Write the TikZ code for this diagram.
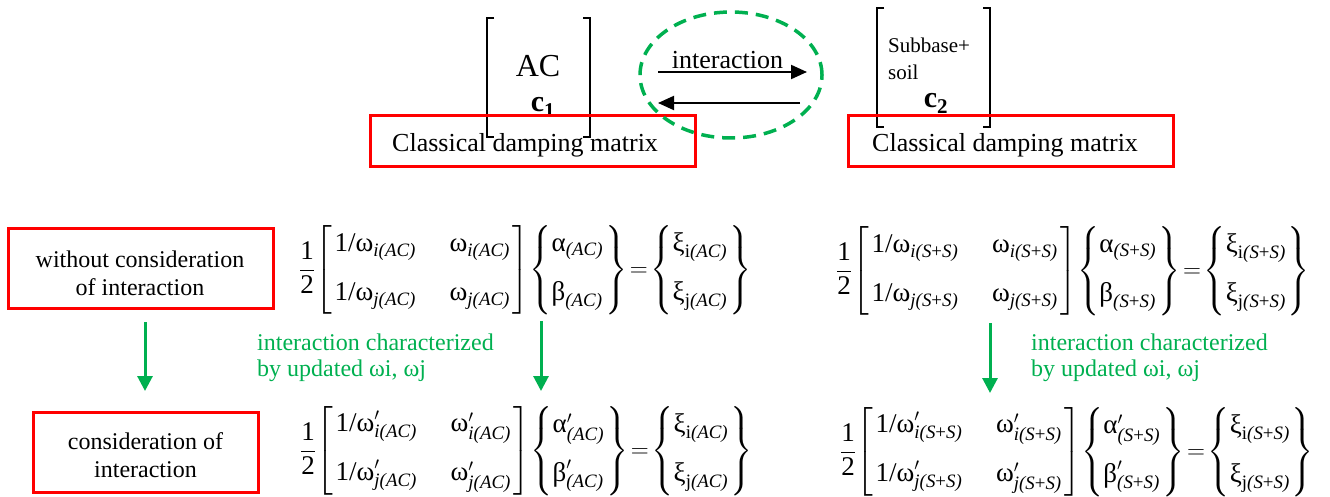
\documentclass[tikz,border=0pt]{standalone}
\usepackage{amsmath}
\usepackage{fontspec}
\setmainfont{Liberation Serif}
\usetikzlibrary{arrows.meta,shapes.geometric}
\definecolor{rgreen}{RGB}{0,176,80}
\newcommand{\fsz}[2]{\fontsize{#1}{#2}\selectfont}
\newcommand{\sbi}[1]{_{\text{\itshape #1}}}
\newcommand{\sbx}[2]{_{\text{#1\itshape #2}}}
\newcommand{\dampeq}[2]{%
$\displaystyle\frac{\text{1}}{\text{2}}\mkern-3mu
\left[\begin{array}{@{\hspace{3pt}}l@{\hspace{1.25em}}l@{\hspace{3pt}}}
\text{1/ω}#1\sbi{i(#2)} & \text{ω}#1\sbi{i(#2)}\\[17pt]
\text{1/ω}#1\sbi{j(#2)} & \text{ω}#1\sbi{j(#2)}
\end{array}\right]\mkern-3mu
\left\{\begin{array}{@{\hspace{0pt}}l@{\hspace{2pt}}}
\text{α}#1\sbi{(#2)}\\[17pt]
\text{β}#1\sbi{(#2)}
\end{array}\right\}
\mkern-3mu=\mkern-3mu\left\{\begin{array}{@{\hspace{0pt}}l@{\hspace{2pt}}}
\text{ξ}\sbx{i}{(#2)}\\[17pt]
\text{ξ}\sbx{j}{(#2)}
\end{array}\right\}$}
\begin{document}
\begin{tikzpicture}[x=1pt,y=1pt,
  redbox/.style={draw=red, line width=3pt, inner sep=0pt},
  brk/.style={line width=1.5pt},
  garrow/.style={draw=rgreen, line width=3pt, -{Triangle[length=15pt,width=15pt]}},
  barrow/.style={line width=2pt, -{Triangle[length=16pt,width=14pt]}},
  lbl/.style={inner sep=0pt, anchor=base},
  gtext/.style={text=rgreen, font=\fsz{24}{28}, anchor=base west, inner sep=0pt},
  eqn/.style={inner sep=0pt, anchor=west, font=\fsz{27}{32}}]
\useasboundingbox (0,0) rectangle (1330,-497);

% top left block
\draw[brk] (494,-18) -- (487,-18) -- (487,-137) -- (494,-137);
\draw[brk] (583,-18) -- (590,-18) -- (590,-137) -- (583,-137);
\node[lbl, font=\fsz{32}{32}] (ac) at (538,-77) {AC};
\node[lbl, font=\fsz{30}{30}] (c1) at (543,-112) {$\textbf{c}_{\textbf{1}}$};
\node[redbox, minimum width=325pt, minimum height=51pt] (cdm1) at (532.5,-141.5) {};
\node[lbl, anchor=base west, font=\fsz{26}{26}] (cdm1t) at (392,-152) {Classical damping matrix};

% interaction ellipse
\node[ellipse, draw=rgreen, line width=3.5pt, dash pattern=on 13pt off 8pt,
      minimum width=182pt, minimum height=126pt, inner sep=0pt] (ell) at (731,-75) {};
\coordinate (a1s) at (658,-72);
\coordinate (a1e) at (807,-72);
\coordinate (a2s) at (800,-103);
\coordinate (a2e) at (658,-103);
\draw[barrow] (a1s) -- (a1e);
\draw[barrow] (a2s) -- (a2e);
\node[lbl, font=\fsz{26}{26}] (intl) at (727.5,-69) {interaction};

% top right block
\draw[brk] (884,-8) -- (877,-8) -- (877,-127) -- (884,-127);
\draw[brk] (983,-8) -- (990,-8) -- (990,-127) -- (983,-127);
\node[lbl, anchor=base west, font=\fsz{21}{21}] (sb1) at (888,-53) {Subbase+};
\node[lbl, anchor=base west, font=\fsz{21}{21}] (sb2) at (888,-80) {soil};
\node[lbl, font=\fsz{30}{30}] (c2) at (936,-108) {$\textbf{c}_{\textbf{2}}$};
\node[redbox, minimum width=325pt, minimum height=51pt] (cdm2) at (1010.5,-141.5) {};
\node[lbl, anchor=base west, font=\fsz{26}{26}] (cdm2t) at (872,-152) {Classical damping matrix};

% left boxes
\node[redbox, minimum width=265pt, minimum height=80pt] (wo) at (140.5,-268) {};
\node[inner sep=0pt, align=center, font=\fsz{24}{28}] (wot) at (140,-273) {without consideration\\of interaction};
\node[redbox, minimum width=225pt, minimum height=80pt] (wi) at (145.5,-452) {};
\node[inner sep=0pt, align=center, font=\fsz{24}{28}] (wit) at (145.5,-455) {consideration of\\interaction};
\draw[garrow] (145,-322) -- (145,-391);

% equations
\node[eqn] (eq1) at (299,-270) {\dampeq{}{AC}};
\node[eqn] (eq2) at (836,-271) {\dampeq{}{S{\upshape+}S}};
\node[eqn] (eq3) at (300,-451) {\dampeq{'}{AC}};
\node[eqn] (eq4) at (840,-452) {\dampeq{'}{S{\upshape+}S}};

% green notes and arrows
\node[gtext] (g1a) at (257,-350) {interaction characterized};
\node[gtext] (g1b) at (257,-376) {by updated ωi, ωj};
\coordinate (m1s) at (541,-321);
\coordinate (m1e) at (541,-391);
\draw[garrow] (m1s) -- (m1e);
\node[gtext] (g2a) at (1031,-350) {interaction characterized};
\node[gtext] (g2b) at (1031,-376) {by updated ωi, ωj};
\coordinate (m2s) at (990,-323);
\coordinate (m2e) at (990,-393);
\draw[garrow] (m2s) -- (m2e);
\end{tikzpicture}
\end{document}
